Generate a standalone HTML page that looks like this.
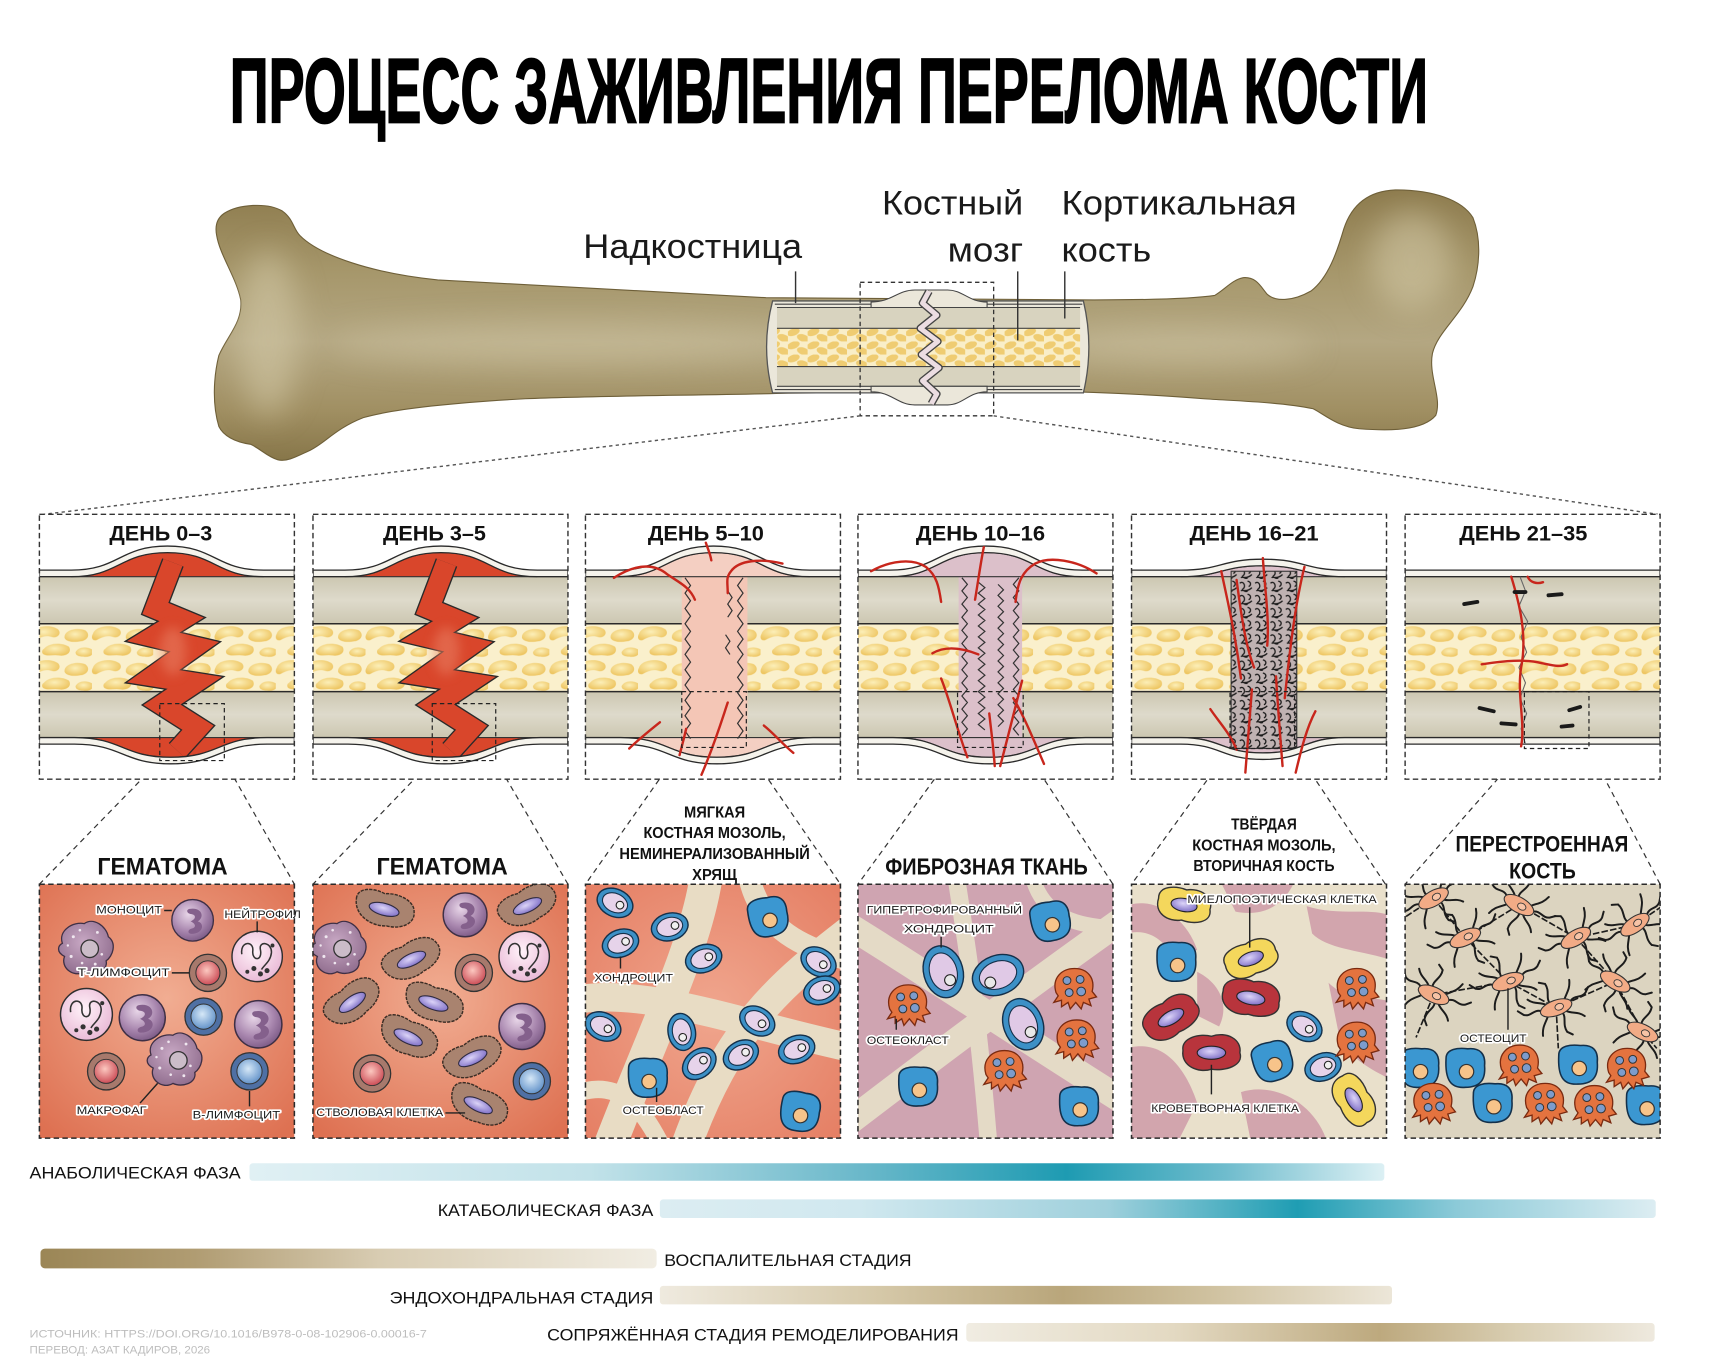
<!DOCTYPE html>
<html><head><meta charset="utf-8"><style>
html,body{margin:0;padding:0;background:#fff;}
svg{display:block;}
text{font-family:"Liberation Sans","DejaVu Sans",sans-serif;}
.lb{font-size:10.5px;fill:#1a1a1a;stroke:#fff;stroke-width:3px;paint-order:stroke;stroke-linejoin:round;}
.hd{font-weight:bold;fill:#111;}
.bt{font-size:15.5px;fill:#111;}
</style></head><body>
<svg xmlns="http://www.w3.org/2000/svg" width="1717" height="1369" viewBox="0 0 1569 1251" preserveAspectRatio="none">
<defs>
<clipPath id="pc"><rect x="0" y="0" width="233" height="242"/></clipPath>
<clipPath id="cc"><rect x="0" y="0" width="233" height="232"/></clipPath>
<radialGradient id="gBlob" cx=".45" cy=".4" r=".6"><stop offset="0" stop-color="#fcefb8"/><stop offset="1" stop-color="#eec663"/></radialGradient>
<linearGradient id="gCort" x1="0" y1="0" x2="0" y2="1"><stop offset="0" stop-color="#ccc7b1"/><stop offset=".5" stop-color="#dedacb"/><stop offset="1" stop-color="#ccc7b1"/></linearGradient>
<pattern id="mp" patternUnits="userSpaceOnUse" x="-8" y="100" width="56" height="31">
<rect width="56" height="31" fill="#faf0cc"/>
<path d="M1,9 C3,2 18,0 25,5 C29,9 24,14 19,12 C13,10 8,13 4,15 C0,16 -1,12 1,9Z" fill="url(#gBlob)"/>
<path d="M31,13 C30,6 42,3 50,6 C55,10 52,15 46,16 C40,17 33,17 31,13Z" fill="url(#gBlob)"/>
<path d="M12,23 C17,17 29,17 35,21 C38,26 33,30 26,29 C21,28 16,30 12,28 C10,27 10,24 12,23Z" fill="url(#gBlob)"/>
<path d="M41,26 C44,20 53,21 57,24 C58,29 53,31 48,30 C44,30 41,29 41,26Z" fill="url(#gBlob)"/>
</pattern>
<pattern id="mp2" patternUnits="userSpaceOnUse" x="0" y="300" width="18" height="12">
<rect width="18" height="12" fill="#f9eec8"/>
<ellipse cx="5" cy="3.5" rx="6" ry="3.3" fill="#efcc72" transform="rotate(-20 5 3.5)"/>
<ellipse cx="14" cy="9" rx="6" ry="3.3" fill="#efcc72" transform="rotate(20 14 9)"/>
</pattern>
<pattern id="scrib" patternUnits="userSpaceOnUse" width="14" height="12">
<rect width="14" height="12" fill="#bfb2b2"/>
<path d="M1,3 C4,0 7,6 4,8 C1,10 8,11 12,7 M8,1 C12,2 11,5 9,6 M2,10 C4,8 6,12 8,10" stroke="#1a1a1a" fill="none" stroke-width="1.2"/>
</pattern>
<linearGradient id="boneG" x1="0" y1="170" x2="0" y2="420" gradientUnits="userSpaceOnUse">
<stop offset="0" stop-color="#8c7a4c"/><stop offset=".3" stop-color="#a6976b"/><stop offset=".55" stop-color="#b4a782"/><stop offset=".8" stop-color="#a08f62"/><stop offset="1" stop-color="#847346"/></linearGradient>
<filter id="bl" x="-50%" y="-50%" width="200%" height="200%"><feGaussianBlur stdDeviation="14"/></filter>
<filter id="bl2" x="-50%" y="-50%" width="200%" height="200%"><feGaussianBlur stdDeviation="5"/></filter>
<radialGradient id="gMono" cx=".4" cy=".35" r=".7"><stop offset="0" stop-color="#e8d6e8"/><stop offset=".6" stop-color="#a886ae"/><stop offset="1" stop-color="#7a5884"/></radialGradient>
<radialGradient id="gNeut" cx=".45" cy=".4" r=".65"><stop offset="0" stop-color="#fff2f9"/><stop offset="1" stop-color="#e8b6d4"/></radialGradient>
<radialGradient id="gMacro" cx=".45" cy=".4" r=".7"><stop offset="0" stop-color="#c8a8c4"/><stop offset="1" stop-color="#8b6889"/></radialGradient>
<radialGradient id="gRed" cx=".45" cy=".4" r=".65"><stop offset="0" stop-color="#fcc8c0"/><stop offset="1" stop-color="#c8434e"/></radialGradient>
<radialGradient id="gBlue" cx=".45" cy=".4" r=".65"><stop offset="0" stop-color="#d6e8f7"/><stop offset="1" stop-color="#5a8cc6"/></radialGradient>
<radialGradient id="gPurp" cx=".45" cy=".4" r=".65"><stop offset="0" stop-color="#dcd4f8"/><stop offset="1" stop-color="#7a6ac4"/></radialGradient>
<radialGradient id="gHem" cx=".5" cy=".45" r=".7"><stop offset="0" stop-color="#f1ad92"/><stop offset="1" stop-color="#de7152"/></radialGradient>
<radialGradient id="gSal" cx=".5" cy=".5" r=".7"><stop offset="0" stop-color="#f0a68e"/><stop offset="1" stop-color="#e57f64"/></radialGradient>
<linearGradient id="gAna"><stop offset="0" stop-color="#e0f0f4"/><stop offset=".3" stop-color="#c2e2e9"/><stop offset=".54" stop-color="#6ab8ca"/><stop offset=".72" stop-color="#1e9bb2"/><stop offset=".86" stop-color="#6fbccd"/><stop offset="1" stop-color="#dcf0f4"/></linearGradient>
<linearGradient id="gCat"><stop offset="0" stop-color="#dcedf2"/><stop offset=".2" stop-color="#d0e8ef"/><stop offset=".45" stop-color="#9fd0dc"/><stop offset=".64" stop-color="#1f9db3"/><stop offset=".8" stop-color="#8ccad8"/><stop offset="1" stop-color="#dcedf2"/></linearGradient>
<linearGradient id="gInf"><stop offset="0" stop-color="#9b8656"/><stop offset=".25" stop-color="#b09c72"/><stop offset=".55" stop-color="#d8ccb2"/><stop offset="1" stop-color="#f1ede3"/></linearGradient>
<linearGradient id="gEndo"><stop offset="0" stop-color="#efeadf"/><stop offset=".3" stop-color="#d5c8a8"/><stop offset=".55" stop-color="#b9a67b"/><stop offset=".75" stop-color="#cfc19f"/><stop offset="1" stop-color="#ece6d8"/></linearGradient>
<linearGradient id="gRem"><stop offset="0" stop-color="#f0ece2"/><stop offset=".3" stop-color="#e3d9c2"/><stop offset=".6" stop-color="#bda97e"/><stop offset=".8" stop-color="#d9ceb2"/><stop offset="1" stop-color="#eee9de"/></linearGradient>

<g id="bone">
<rect x="0" y="57" width="233" height="43" fill="url(#gCort)"/>
<rect x="0" y="100" width="233" height="62" fill="url(#mp)"/>
<rect x="0" y="162" width="233" height="42" fill="url(#gCort)"/>
<path d="M0,100H233M0,162H233" stroke="#2a2a2a" stroke-width="1.3"/>
</g>

<g id="mono"><circle r="20" fill="url(#gMono)" stroke="#3e2f45" stroke-width="1.3"/><path d="M-3,-11 C9,-13 12,-3 5,1 C12,3 10,13 -1,13 C-5,13 -5,9 -1,8 C4,7 3,3 -2,1 C3,-1 4,-5 -1,-6 C-5,-6 -7,-10 -3,-11Z" fill="#84608c"/></g>
<g id="neut"><circle r="23" fill="url(#gNeut)" stroke="#2e2e2e" stroke-width="1.3"/><path d="M-14,-2 C-16,-14 -3,-15 -4,-5 C-5,4 5,5 3,-6 C1,-15 14,-13 13,-3 C12,5 6,8 4,12" fill="none" stroke="#333" stroke-width="1.4"/><circle cx="-3" cy="11" r="2.3" fill="#333"/><circle cx="3" cy="16" r="2.3" fill="#333"/><circle cx="9" cy="13" r="2.3" fill="#333"/><circle cx="14" cy="-10" r="1.8" fill="#333"/><circle cx="-9" cy="14" r="1.8" fill="#333"/></g>
<g id="macro"><path d="M-22,-4 C-26,-16 -12,-24 -2,-22 C6,-28 18,-20 20,-10 C28,-4 24,8 18,12 C20,22 6,26 -2,22 C-12,28 -24,18 -20,8 C-28,4 -26,-2 -22,-4Z" fill="url(#gMacro)" stroke="#3e2f45" stroke-width="1.2"/><g fill="#efe6ef"><circle cx="-12" cy="-10" r="1.4"/><circle cx="-6" cy="-16" r="1.2"/><circle cx="10" cy="-14" r="1.3"/><circle cx="14" cy="6" r="1.2"/><circle cx="-14" cy="8" r="1.4"/><circle cx="-4" cy="14" r="1.2"/><circle cx="8" cy="15" r="1.3"/><circle cx="-17" cy="-2" r="1.1"/></g><circle cx="3" cy="1" r="8" fill="#cbbcc8" stroke="#333" stroke-width="1.2"/></g>
<g id="tlym"><circle r="17" fill="#a7796c" stroke="#333" stroke-width="1.2"/><circle r="11" fill="url(#gRed)" stroke="#333" stroke-width=".9"/></g>
<g id="blym"><circle r="17" fill="#4f70a4" stroke="#333" stroke-width="1.2"/><circle r="11.5" fill="url(#gBlue)" stroke="#333" stroke-width=".9"/></g>
<g id="stem"><path d="M-27,-3 C-29,-13 -15,-17 -3,-14 C8,-18 25,-15 27,-5 C31,5 20,14 6,14 C-6,18 -25,13 -27,-3Z" fill="#a9836f" stroke="#3b2d25" stroke-width="1.3" stroke-dasharray="3,1"/><ellipse rx="14" ry="5.5" fill="url(#gPurp)" stroke="#2e2a40" stroke-width="1"/></g>
<g id="chon"><ellipse rx="17" ry="12.5" fill="#3c90c6" stroke="#14304a" stroke-width="1.3"/><ellipse rx="12" ry="8.5" fill="#e6d3ea" stroke="#14304a" stroke-width="1"/><circle cx="5" cy="0" r="3.5" fill="#f0f0f0" stroke="#222" stroke-width="1"/></g>
<g id="obl"><path d="M-16,-8 C-16,-16 -6,-17 2,-16 C12,-17 17,-12 16,-2 C17,10 12,16 0,16 C-12,17 -17,10 -16,-8Z" fill="#3b97d1" stroke="#14304a" stroke-width="1.3"/><circle cx="1" cy="3" r="6" fill="#f7c48a" stroke="#333" stroke-width="1"/></g>
<g id="ocl"><path d="M-16,4 C-20,-9 -11,-18 1,-18 C13,-18 20,-9 17,3 L21,8 L14,10 L16,16 L9,13 L7,19 L2,13 L-3,19 L-5,13 L-11,17 L-11,11 L-18,13 L-14,7 Z" fill="#e4733f" stroke="#7a2a10" stroke-width="1.2"/><g fill="#7d9ccc" stroke="#333" stroke-width=".9"><circle cx="-6" cy="-7" r="3.6"/><circle cx="6" cy="-8" r="3.6"/><circle cx="-4" cy="4" r="3.6"/><circle cx="7" cy="3" r="4"/></g></g>
<g id="hchon"><ellipse rx="18" ry="24" fill="#3c90c6" stroke="#14304a" stroke-width="1.3"/><ellipse rx="12.5" ry="17.5" fill="#e0c9e6" stroke="#14304a"/><circle cx="4" cy="9" r="5" fill="#e8e8e8" stroke="#222"/></g>
<g id="myel"><path d="M-24,-2 C-26,-14 -10,-16 0,-14 C12,-18 26,-12 24,0 C28,12 12,16 0,14 C-12,18 -26,12 -24,-2Z" fill="#f4d75c" stroke="#333" stroke-width="1.3"/><ellipse rx="12" ry="6" fill="url(#gPurp)" stroke="#222"/></g>
<g id="hema"><path d="M-26,-2 C-28,-14 -10,-18 0,-15 C14,-20 28,-12 26,0 C30,12 12,17 0,15 C-12,19 -28,12 -26,-2Z" fill="#b8343c" stroke="#333" stroke-width="1.3"/><ellipse rx="13" ry="6" fill="url(#gPurp)" stroke="#222"/></g>
<g id="ocy"><path d="M-14,-2 C-20,-6 -24,0 -30,-4 M-30,-4 l-4,-5 M14,-1 C20,-6 24,0 30,-4 M30,-4 l4,-4 M-4,-6 C-6,-12 0,-16 -2,-24 M-2,-24 l-5,-3 M4,6 C6,12 0,16 2,24 M2,24 l4,4 M-10,5 C-14,10 -18,12 -20,20 M10,-5 C14,-10 18,-12 20,-20 M8,6 C12,10 18,10 22,16 M-8,-6 C-12,-10 -18,-10 -22,-16" stroke="#1c1c1c" stroke-width="1.8" fill="none" stroke-linecap="round"/><ellipse rx="15" ry="7" fill="#f2ab86" stroke="#333" stroke-width="1"/><ellipse cx="3" rx="4" ry="3" fill="#f7c3a6" stroke="#333" stroke-width=".8"/></g>

<g id="crack">
<polyline points="122,44 106,86 130,96 104,112 142,121 104,148 142,154 112,174 145,195 126,216" fill="none" stroke="#2a2a2a" stroke-width="21" stroke-linejoin="miter" stroke-miterlimit="3"/>
<polyline points="122,44 106,86 130,96 104,112 142,121 104,148 142,154 112,174 145,195 126,216" fill="none" stroke="#d9462b" stroke-width="18.5" stroke-linejoin="miter" stroke-miterlimit="3"/>
<ellipse cx="122" cy="125" rx="12" ry="22" fill="#e98063" opacity=".55" filter="url(#bl2)"/>
</g>
</defs>

<rect width="1569" height="1251" fill="#fff"/>

<!-- TITLE -->
<text x="210" y="112" font-size="84" font-weight="bold" textLength="1095" lengthAdjust="spacingAndGlyphs" fill="#000" stroke="#000" stroke-width="1.6">ПРОЦЕСС ЗАЖИВЛЕНИЯ ПЕРЕЛОМА КОСТИ</text>

<!-- MAIN BONE -->
<g transform="scale(1 1.015)">
<path id="bp" d="M205,192 C218,184 244,182 258,190 C268,197 268,206 274,212 C292,230 340,246 400,252 C500,258 600,262 700,268 L1000,270 C1050,270 1090,269 1110,266 C1120,260 1126,252 1136,250 C1148,249 1152,258 1158,265 C1166,272 1182,271 1198,262 C1214,250 1222,226 1228,206 C1235,185 1250,172 1275,171 C1310,171 1336,180 1346,196 C1354,216 1352,240 1346,258 C1336,284 1314,298 1309,318 C1305,338 1318,358 1312,374 C1300,388 1270,388 1242,386 C1222,384 1210,373 1200,368 C1170,362 1130,361 1100,359 C1050,355 1000,353 950,352 L720,354 C650,356 550,356 480,359 C420,362 360,368 332,376 C306,386 296,400 282,406 C271,411 262,416 254,414 C244,411 238,404 229,400 C214,398 204,392 200,384 C194,364 195,340 200,320 C208,302 222,290 220,270 C216,250 201,230 198,212 C196,202 199,196 205,192 Z" fill="url(#boneG)" stroke="#6e5f38" stroke-width="1"/>
<clipPath id="bclip"><use href="#bp"/></clipPath>
<g clip-path="url(#bclip)" filter="url(#bl)" opacity=".55">
<ellipse cx="245" cy="300" rx="28" ry="75" fill="#d6ccab"/>
<ellipse cx="1290" cy="235" rx="38" ry="45" fill="#d6ccab"/>
<ellipse cx="520" cy="310" rx="220" ry="18" fill="#cfc4a2"/>
<ellipse cx="1080" cy="312" rx="120" ry="16" fill="#cfc4a2"/>
</g>
</g>

<!-- cutaway -->
<path d="M706,275 L990,275 Q1000,317 990,359 L706,359 Q695,317 706,275 Z" fill="#ebe7da" stroke="#555" stroke-width="1.2"/>
<rect x="710" y="281" width="277" height="19" fill="#d8d3bf"/>
<rect x="710" y="300" width="277" height="35" fill="url(#mp2)"/>
<rect x="710" y="335" width="277" height="18" fill="#d8d3bf"/>
<path d="M708,278H989M710,281H987M710,300H987M710,335H987M710,353H987M708,356H989" stroke="#444" stroke-width="1"/>
<path d="M796,276 C815,276 820,265 836,265 L866,265 C880,265 885,276 902,276 L902,281 L796,281 Z" fill="#ebe7da" stroke="#444" stroke-width="1"/>
<path d="M796,358 C815,358 820,370 836,370 L866,370 C880,370 885,358 902,358 L902,353 L796,353 Z" fill="#ebe7da" stroke="#444" stroke-width="1"/>
<polyline points="849,266 843,277 856,288 841,300 857,312 842,324 858,336 843,348 856,360 851,369" fill="none" stroke="#444" stroke-width="7" stroke-linejoin="round"/>
<polyline points="849,266 843,277 856,288 841,300 857,312 842,324 858,336 843,348 856,360 851,369" fill="none" stroke="#ecdde2" stroke-width="4.5" stroke-linejoin="round"/>
<rect x="786" y="258" width="122" height="122" fill="none" stroke="#333" stroke-width="1.2" stroke-dasharray="4,3"/>
<path d="M727,248V277M930,248V311M973,248V291" stroke="#333" stroke-width="1.3"/>
<text x="533" y="236" font-size="31" textLength="200" lengthAdjust="spacingAndGlyphs" fill="#1a1a1a">Надкостница</text>
<text x="806" y="196" font-size="31" textLength="129" lengthAdjust="spacingAndGlyphs" fill="#1a1a1a">Костный</text>
<text x="866" y="239" font-size="31" textLength="69" lengthAdjust="spacingAndGlyphs" fill="#1a1a1a">мозг</text>
<text x="970" y="196" font-size="31" textLength="215" lengthAdjust="spacingAndGlyphs" fill="#1a1a1a">Кортикальная</text>
<text x="970" y="239" font-size="31" textLength="82" lengthAdjust="spacingAndGlyphs" fill="#1a1a1a">кость</text>

<!-- dotted connectors -->
<path d="M786,380 L40,470 M908,380 L1515,470" stroke="#555" stroke-width="1.3" stroke-dasharray="3,3" fill="none"/>

<!-- zoom connectors to cell panels -->
<g stroke="#333" stroke-width="1.1" stroke-dasharray="5,4" fill="none">
<path d="M146,695 L36,808 M205,695 L269,808"/>
<path d="M395,695 L286,808 M453,695 L519,808"/>
<path d="M623,683 L535,808 M682,683 L768,808"/>
<path d="M875,683 L784,808 M935,683 L1017,808"/>
<path d="M1124,684 L1034,808 M1183,684 L1266,808"/>
<path d="M1393,684 L1284,808 M1452,684 L1517,808"/>
</g>

<!-- TOP PANEL 1 -->
<g transform="translate(36,470)">
<rect width="233" height="242" fill="#fff"/>
<g clip-path="url(#pc)">
<use href="#bone"/>
<path d="M29,57 C73,57 73,35 117,35 C161,35 161,57 205,57 Z" fill="#d9462b" stroke="#333" stroke-width="1"/>
<path d="M32,204 C76,204 76,222 120,222 C164,222 164,204 208,204 Z" fill="#d9462b" stroke="#333" stroke-width="1"/>
<use href="#crack"/>
<path d="M0,51 L29,51 C73,51 73,29 117,29 C161,29 161,51 205,51 L233,51 L233,57 L205,57 C161,57 161,35 117,35 C73,35 73,57 29,57 L0,57 Z" fill="#f5f3ec" stroke="#2a2a2a" stroke-width="1.2"/>
<path d="M0,204 L32,204 C76,204 76,222 120,222 C164,222 164,204 208,204 L233,204 L233,210 L208,210 C164,210 164,228 120,228 C76,228 76,210 32,210 L0,210 Z" fill="#f5f3ec" stroke="#2a2a2a" stroke-width="1.2"/>
</g>
<rect x="110" y="173" width="59" height="52" fill="none" stroke="#222" stroke-width="1.1" stroke-dasharray="4,3"/>
<rect width="233" height="242" fill="none" stroke="#333" stroke-width="1.3" stroke-dasharray="5,3"/>
<text class="hd" x="111" y="24" font-size="19.5" text-anchor="middle" textLength="94" lengthAdjust="spacingAndGlyphs">ДЕНЬ 0–3</text>
</g>

<!-- TOP PANEL 2 -->
<g transform="translate(286,470)">
<rect width="233" height="242" fill="#fff"/>
<g clip-path="url(#pc)">
<use href="#bone"/>
<path d="M29,57 C73,57 73,35 117,35 C161,35 161,57 205,57 Z" fill="#d9462b" stroke="#333" stroke-width="1"/>
<path d="M32,204 C76,204 76,222 120,222 C164,222 164,204 208,204 Z" fill="#d9462b" stroke="#333" stroke-width="1"/>
<use href="#crack"/>
<path d="M0,51 L29,51 C73,51 73,29 117,29 C161,29 161,51 205,51 L233,51 L233,57 L205,57 C161,57 161,35 117,35 C73,35 73,57 29,57 L0,57 Z" fill="#f5f3ec" stroke="#2a2a2a" stroke-width="1.2"/>
<path d="M0,204 L32,204 C76,204 76,222 120,222 C164,222 164,204 208,204 L233,204 L233,210 L208,210 C164,210 164,228 120,228 C76,228 76,210 32,210 L0,210 Z" fill="#f5f3ec" stroke="#2a2a2a" stroke-width="1.2"/>
</g>
<rect x="109" y="173" width="58" height="52" fill="none" stroke="#222" stroke-width="1.1" stroke-dasharray="4,3"/>
<rect width="233" height="242" fill="none" stroke="#333" stroke-width="1.3" stroke-dasharray="5,3"/>
<text class="hd" x="111" y="24" font-size="19.5" text-anchor="middle" textLength="94" lengthAdjust="spacingAndGlyphs">ДЕНЬ 3–5</text>
</g>

<!-- TOP PANEL 3 -->
<g transform="translate(535,470)">
<rect width="233" height="242" fill="#fff"/>
<g clip-path="url(#pc)">
<use href="#bone"/>
<rect x="88" y="57" width="60" height="147" fill="#f4c6b6"/>
<path d="M29,57 C73,57 73,35 117,35 C161,35 161,57 205,57 Z" fill="#f4cfc2" stroke="#333" stroke-width="1"/>
<path d="M32,204 C76,204 76,222 120,222 C164,222 164,204 208,204 Z" fill="#f4cfc2" stroke="#333" stroke-width="1"/>
<path d="M0,51 L29,51 C73,51 73,29 117,29 C161,29 161,51 205,51 L233,51 L233,57 L205,57 C161,57 161,35 117,35 C73,35 73,57 29,57 L0,57 Z" fill="#f5f3ec" stroke="#2a2a2a" stroke-width="1.2"/>
<path d="M0,204 L32,204 C76,204 76,222 120,222 C164,222 164,204 208,204 L233,204 L233,210 L208,210 C164,210 164,228 120,228 C76,228 76,210 32,210 L0,210 Z" fill="#f5f3ec" stroke="#2a2a2a" stroke-width="1.2"/>
<path d="M91,58 l5,7 l-5,7 l5,7 l-5,7 l5,7 l-5,7 l5,7 l-5,7 l5,7 l-5,7 l5,7 l-5,7 l5,7 l-5,7 l5,7 l-5,7 l5,7 l-5,7 l5,7 l-5,7 l5,7 M144,58 l-5,7 l5,7 l-5,7 l5,7 l-5,7 l5,7 l-5,7 l5,7 l-5,7 l5,7 l-5,7 l5,7 l-5,7 l5,7 l-5,7 l5,7 l-5,7 l5,7 l-5,7 l5,7 l-5,7 M130,70 l4,6 l-4,6 l4,6 l-4,6 M128,110 l4,6 l-4,6 l4,6" fill="none" stroke="#333" stroke-width="1.1"/>
<g fill="none" stroke="#c8261c" stroke-width="2.2" stroke-linecap="round">
<path d="M110,26 C112,32 114,36 115,42"/>
<path d="M26,58 C45,46 62,44 75,55 C85,62 95,66 100,78"/>
<path d="M180,45 C160,40 140,42 133,52 C128,58 130,62 130,72"/>
<path d="M68,190 C58,198 48,206 40,214"/>
<path d="M130,172 C124,190 118,210 106,238"/>
<path d="M163,193 C172,200 180,210 190,218"/>
<path d="M92,196 C90,205 88,212 86,220"/>
</g>
</g>
<rect x="88" y="162" width="59" height="51" fill="none" stroke="#222" stroke-width="1.1" stroke-dasharray="4,3"/>
<rect width="233" height="242" fill="none" stroke="#333" stroke-width="1.3" stroke-dasharray="5,3"/>
<text class="hd" x="110" y="24" font-size="19.5" text-anchor="middle" textLength="106" lengthAdjust="spacingAndGlyphs">ДЕНЬ 5–10</text>
</g>

<!-- TOP PANEL 4 -->
<g transform="translate(784,470)">
<rect width="233" height="242" fill="#fff"/>
<g clip-path="url(#pc)">
<use href="#bone"/>
<rect x="92" y="57" width="58" height="147" fill="#dcc0ca"/>
<path d="M29,57 C73,57 73,35 117,35 C161,35 161,57 205,57 Z" fill="#dcc0ca" stroke="#333" stroke-width="1"/>
<path d="M32,204 C76,204 76,222 120,222 C164,222 164,204 208,204 Z" fill="#dcc0ca" stroke="#333" stroke-width="1"/>
<path d="M0,51 L29,51 C73,51 73,29 117,29 C161,29 161,51 205,51 L233,51 L233,57 L205,57 C161,57 161,35 117,35 C73,35 73,57 29,57 L0,57 Z" fill="#f5f3ec" stroke="#2a2a2a" stroke-width="1.2"/>
<path d="M0,204 L32,204 C76,204 76,222 120,222 C164,222 164,204 208,204 L233,204 L233,210 L208,210 C164,210 164,228 120,228 C76,228 76,210 32,210 L0,210 Z" fill="#f5f3ec" stroke="#2a2a2a" stroke-width="1.2"/>
<path d="M95,58 l5,6 l-5,6 l5,6 l-5,6 l5,6 l-5,6 l5,6 l-5,6 l5,6 l-5,6 l5,6 l-5,6 l5,6 l-5,6 l5,6 l-5,6 l5,6 l-5,6 l5,6 l-5,6 l5,6 l-5,6 l5,6 l-5,6 M147,58 l-5,6 l5,6 l-5,6 l5,6 l-5,6 l5,6 l-5,6 l5,6 l-5,6 l5,6 l-5,6 l5,6 l-5,6 l5,6 l-5,6 l5,6 l-5,6 l5,6 l-5,6 l5,6 l-5,6 l5,6 l-5,6 l5,6 M110,62 l6,5 l-6,5 l6,5 l-6,5 l6,5 l-6,5 l6,5 l-6,5 l6,5 l-6,5 l6,5 l-6,5 l6,5 l-6,5 l6,5 l-6,5 l6,5 l-6,5 l6,5 l-6,5 l6,5 l-6,5 l6,5 l-6,5 l6,5 l-6,5 l6,5 M128,64 l5,5 l-5,5 l5,5 l-5,5 l5,5 l-5,5 l5,5 l-5,5 l5,5 l-5,5 l5,5 l-5,5 l5,5 l-5,5 l5,5 l-5,5 l5,5 l-5,5 l5,5 l-5,5 l5,5 l-5,5 l5,5 l-5,5 l5,5 l-5,5" fill="none" stroke="#333" stroke-width="1.1"/>
<g fill="none" stroke="#c8261c" stroke-width="2.2" stroke-linecap="round">
<path d="M115,30 C112,45 110,60 107,78"/>
<path d="M12,52 C30,42 50,40 62,48 C72,56 74,66 76,80"/>
<path d="M218,54 C200,42 175,38 162,45 C150,52 146,62 144,80"/>
<path d="M68,127 C80,120 95,122 110,128"/>
<path d="M76,150 C84,170 90,195 100,222"/>
<path d="M150,152 C144,175 138,200 130,230"/>
<path d="M142,168 C152,185 160,205 170,228"/>
<path d="M120,182 C122,200 124,215 125,230"/>
</g>
</g>
<rect x="91" y="162" width="60" height="51" fill="none" stroke="#222" stroke-width="1.1" stroke-dasharray="4,3"/>
<rect width="233" height="242" fill="none" stroke="#333" stroke-width="1.3" stroke-dasharray="5,3"/>
<text class="hd" x="112" y="24" font-size="19.5" text-anchor="middle" textLength="118" lengthAdjust="spacingAndGlyphs">ДЕНЬ 10–16</text>
</g>

<!-- TOP PANEL 5 -->
<g transform="translate(1034,470)">
<rect width="233" height="242" fill="#fff"/>
<g clip-path="url(#pc)">
<use href="#bone"/>
<path d="M45,57 C82,57 82,47 120,47 C158,47 158,57 195,57 Z" fill="#dcc0ca" stroke="#333" stroke-width="1"/>
<path d="M45,204 C82,204 82,218 120,218 C158,218 158,204 195,204 Z" fill="#dcc0ca" stroke="#333" stroke-width="1"/>
<rect x="91" y="52" width="60" height="162" fill="url(#scrib)" stroke="#333" stroke-width="1"/>
<path d="M0,51 L45,51 C82,51 82,41 120,41 C158,41 158,51 195,51 L233,51 L233,57 L195,57 C158,57 158,47 120,47 C82,47 82,57 45,57 L0,57 Z" fill="#f5f3ec" stroke="#2a2a2a" stroke-width="1.2"/>
<path d="M0,204 L45,204 C82,204 82,218 120,218 C158,218 158,204 195,204 L233,204 L233,210 L195,210 C158,210 158,224 120,224 C82,224 82,210 45,210 L0,210 Z" fill="#f5f3ec" stroke="#2a2a2a" stroke-width="1.2"/>
<g fill="none" stroke="#c8261c" stroke-width="2.2" stroke-linecap="round">
<path d="M82,52 C88,80 95,110 100,150"/>
<path d="M158,48 C150,80 145,120 140,168"/>
<path d="M120,40 C122,70 126,95 124,120"/>
<path d="M72,178 C80,190 90,200 96,215"/>
<path d="M168,180 C160,195 155,215 150,236"/>
<path d="M110,160 C108,185 106,210 104,236"/>
<path d="M132,148 C134,180 136,205 138,230"/>
<path d="M96,60 C100,90 104,120 112,140"/>
</g>
</g>
<rect x="90" y="162" width="59" height="52" fill="none" stroke="#222" stroke-width="1.1" stroke-dasharray="4,3"/>
<rect width="233" height="242" fill="none" stroke="#333" stroke-width="1.3" stroke-dasharray="5,3"/>
<text class="hd" x="112" y="24" font-size="19.5" text-anchor="middle" textLength="118" lengthAdjust="spacingAndGlyphs">ДЕНЬ 16–21</text>
</g>

<!-- TOP PANEL 6 -->
<g transform="translate(1284,470)">
<rect width="233" height="242" fill="#fff"/>
<g clip-path="url(#pc)">
<use href="#bone"/>
<path d="M0,51H233V57H0Z" fill="#f5f3ec" stroke="#2a2a2a" stroke-width="1.2"/>
<path d="M0,204H233V210H0Z" fill="#f5f3ec" stroke="#2a2a2a" stroke-width="1.2"/>
<polyline points="105,57 110,70 104,84 112,98 106,112 111,126 104,140 110,154 105,168 111,182 106,196 110,210" fill="none" stroke="#666" stroke-width="1"/>
<g fill="none" stroke="#c8261c" stroke-width="2.2" stroke-linecap="round">
<path d="M97,57 C104,80 112,110 106,140 C102,165 110,190 106,212"/>
<path d="M70,137 C90,134 110,132 125,136 C135,138 142,140 148,137"/>
<path d="M112,57 C114,62 120,64 126,62"/>
</g>
<g stroke="#1a1a1a" stroke-width="3.5" stroke-linecap="round">
<path d="M54,82 L66,80 M131,74 L143,73 M100,71 L110,71 M68,177 L81,180 M150,179 L160,176 M88,191 L101,192 M143,194 L153,193"/>
</g>
</g>
<rect x="109" y="162" width="59" height="52" fill="none" stroke="#222" stroke-width="1.1" stroke-dasharray="4,3"/>
<rect width="233" height="242" fill="none" stroke="#333" stroke-width="1.3" stroke-dasharray="5,3"/>
<text class="hd" x="108" y="24" font-size="19.5" text-anchor="middle" textLength="117" lengthAdjust="spacingAndGlyphs">ДЕНЬ 21–35</text>
</g>

<!-- HEADINGS between rows -->
<text class="hd" x="148.5" y="799" font-size="22" text-anchor="middle" textLength="119" lengthAdjust="spacingAndGlyphs">ГЕМАТОМА</text>
<text class="hd" x="404" y="799" font-size="22" text-anchor="middle" textLength="120" lengthAdjust="spacingAndGlyphs">ГЕМАТОМА</text>
<g class="hd" font-size="14" text-anchor="middle">
<text x="653" y="747" textLength="56" lengthAdjust="spacingAndGlyphs">МЯГКАЯ</text>
<text x="653" y="766" textLength="130" lengthAdjust="spacingAndGlyphs">КОСТНАЯ МОЗОЛЬ,</text>
<text x="653" y="785" textLength="174" lengthAdjust="spacingAndGlyphs">НЕМИНЕРАЛИЗОВАННЫЙ</text>
<text x="653" y="804" textLength="41" lengthAdjust="spacingAndGlyphs">ХРЯЩ</text>
<text x="1155" y="758" textLength="60" lengthAdjust="spacingAndGlyphs">ТВЁРДАЯ</text>
<text x="1155" y="777" textLength="131" lengthAdjust="spacingAndGlyphs">КОСТНАЯ МОЗОЛЬ,</text>
<text x="1155" y="796" textLength="129" lengthAdjust="spacingAndGlyphs">ВТОРИЧНАЯ КОСТЬ</text>
</g>
<text class="hd" x="901.5" y="799" font-size="21" text-anchor="middle" textLength="185" lengthAdjust="spacingAndGlyphs">ФИБРОЗНАЯ ТКАНЬ</text>
<text class="hd" x="1409" y="778" font-size="20" text-anchor="middle" textLength="158" lengthAdjust="spacingAndGlyphs">ПЕРЕСТРОЕННАЯ</text>
<text class="hd" x="1409.5" y="803" font-size="20" text-anchor="middle" textLength="61" lengthAdjust="spacingAndGlyphs">КОСТЬ</text>

<!-- CELL PANEL 1 -->
<g transform="translate(36,808)">
<g clip-path="url(#cc)">
<rect width="233" height="232" fill="url(#gHem)"/>
<use href="#mono" transform="translate(140,33) scale(.95)"/>
<use href="#neut" transform="translate(199,66)"/>
<use href="#macro" transform="translate(43,58)"/>
<use href="#tlym" transform="translate(154,81)"/>
<use href="#neut" transform="translate(43,119) scale(1.03)"/>
<use href="#mono" transform="translate(94,122) scale(1.05)"/>
<use href="#blym" transform="translate(150,121)"/>
<use href="#mono" transform="translate(200,128) scale(1.08)"/>
<use href="#tlym" transform="translate(61,171)"/>
<use href="#macro" transform="translate(124,160)"/>
<use href="#blym" transform="translate(192,171)"/>
</g>
<path d="M114,24H121M199,34V44M121,81H137M92,200L108,182M192,189V203" stroke="#222" stroke-width="1.3"/>
<text class="lb" x="112" y="27" text-anchor="end" textLength="60" lengthAdjust="spacingAndGlyphs">МОНОЦИТ</text>
<text class="lb" x="169" y="31" textLength="70" lengthAdjust="spacingAndGlyphs">НЕЙТРОФИЛ</text>
<text class="lb" x="35" y="84" textLength="84" lengthAdjust="spacingAndGlyphs">Т-ЛИМФОЦИТ</text>
<text class="lb" x="34" y="210" textLength="64" lengthAdjust="spacingAndGlyphs">МАКРОФАГ</text>
<text class="lb" x="140" y="214" textLength="80" lengthAdjust="spacingAndGlyphs">В-ЛИМФОЦИТ</text>
<rect width="233" height="232" fill="none" stroke="#2a2a2a" stroke-width="1.4" stroke-dasharray="5,3"/>
</g>

<!-- CELL PANEL 2 -->
<g transform="translate(286,808)">
<g clip-path="url(#cc)">
<rect width="233" height="232" fill="url(#gHem)"/>
<use href="#stem" transform="translate(65,23) rotate(15)"/>
<use href="#stem" transform="translate(196,20) rotate(-25)"/>
<use href="#stem" transform="translate(90,69) rotate(-25)"/>
<use href="#stem" transform="translate(36,108) rotate(-35)"/>
<use href="#stem" transform="translate(110,109) rotate(20)"/>
<use href="#stem" transform="translate(87,140) rotate(25)"/>
<use href="#stem" transform="translate(146,159) rotate(-25)"/>
<use href="#stem" transform="translate(151,202) rotate(25)"/>
<use href="#macro" transform="translate(24,58)"/>
<use href="#mono" transform="translate(139,28)"/>
<use href="#mono" transform="translate(191,130) scale(1.05)"/>
<use href="#neut" transform="translate(193,66)"/>
<use href="#tlym" transform="translate(147,81)"/>
<use href="#tlym" transform="translate(54,173)"/>
<use href="#blym" transform="translate(200,180)"/>
</g>
<path d="M121,209H139" stroke="#222" stroke-width="1.3"/>
<text class="lb" x="3" y="212" textLength="116" lengthAdjust="spacingAndGlyphs">СТВОЛОВАЯ КЛЕТКА</text>
<rect width="233" height="232" fill="none" stroke="#2a2a2a" stroke-width="1.4" stroke-dasharray="5,3"/>
</g>

<!-- CELL PANEL 3 -->
<g transform="translate(535,808)">
<g clip-path="url(#cc)">
<rect width="233" height="232" fill="url(#gSal)"/>
<g fill="none" stroke="#e8dcc4" stroke-linecap="round">
<path d="M110,-5 C100,60 60,140 20,245" stroke-width="30"/>
<path d="M245,40 C180,90 130,130 90,245" stroke-width="28"/>
<path d="M-5,105 C60,95 150,130 245,150" stroke-width="26"/>
<path d="M150,-5 C160,40 200,60 245,70" stroke-width="20"/>
<path d="M-5,190 C30,180 50,200 70,240" stroke-width="16"/>
</g>
<use href="#chon" transform="translate(27,17) rotate(25)"/>
<use href="#chon" transform="translate(77,39) rotate(-15)"/>
<use href="#chon" transform="translate(32,54) rotate(-20)"/>
<use href="#chon" transform="translate(108,68) rotate(-20)"/>
<use href="#chon" transform="translate(213,71) rotate(30)"/>
<use href="#chon" transform="translate(216,97) rotate(-20)"/>
<use href="#chon" transform="translate(16,130) rotate(25)"/>
<use href="#chon" transform="translate(88,135) rotate(80)"/>
<use href="#chon" transform="translate(157,125) rotate(30)"/>
<use href="#chon" transform="translate(104,164) rotate(-40)"/>
<use href="#chon" transform="translate(142,156) rotate(-30)"/>
<use href="#chon" transform="translate(193,151) rotate(-20)"/>
<use href="#obl" transform="translate(167,30) rotate(-10) scale(1.1)"/>
<use href="#obl" transform="translate(57,177) scale(1.1)"/>
<use href="#obl" transform="translate(196,208) rotate(10) scale(1.1)"/>
</g>
<path d="M32,66V77M65,186V199" stroke="#222" stroke-width="1.3"/>
<text class="lb" x="8" y="89" textLength="72" lengthAdjust="spacingAndGlyphs">ХОНДРОЦИТ</text>
<text class="lb" x="34" y="210" textLength="74" lengthAdjust="spacingAndGlyphs">ОСТЕОБЛАСТ</text>
<rect width="233" height="232" fill="none" stroke="#2a2a2a" stroke-width="1.4" stroke-dasharray="5,3"/>
</g>

<!-- CELL PANEL 4 -->
<g transform="translate(784,808)">
<g clip-path="url(#cc)">
<rect width="233" height="232" fill="#cfa4b1"/>
<g fill="none" stroke="#e4dac6" stroke-linecap="round">
<path d="M-5,40 C60,80 150,140 245,200" stroke-width="24"/>
<path d="M245,30 C160,90 80,150 -5,215" stroke-width="24"/>
<path d="M90,-5 C100,60 110,120 120,245" stroke-width="16"/>
<path d="M160,-5 C170,30 200,40 245,40" stroke-width="14"/>
</g>
<use href="#hchon" transform="translate(78,80) rotate(-15)"/>
<use href="#hchon" transform="translate(128,83) rotate(70)"/>
<use href="#hchon" transform="translate(151,128) rotate(-20)"/>
<use href="#obl" transform="translate(176,34) rotate(-10) scale(1.1)"/>
<use href="#obl" transform="translate(55,185) scale(1.1)"/>
<use href="#obl" transform="translate(202,203) scale(1.1)"/>
<use href="#ocl" transform="translate(45,110)"/>
<use href="#ocl" transform="translate(197,95)"/>
<use href="#ocl" transform="translate(199,142)"/>
<use href="#ocl" transform="translate(133,170)"/>
</g>
<path d="M76,48V58M35,123V133" stroke="#222" stroke-width="1.3"/>
<text class="lb" x="8" y="27" textLength="142" lengthAdjust="spacingAndGlyphs">ГИПЕРТРОФИРОВАННЫЙ</text>
<text class="lb" x="42" y="44" textLength="82" lengthAdjust="spacingAndGlyphs">ХОНДРОЦИТ</text>
<text class="lb" x="8" y="146" textLength="75" lengthAdjust="spacingAndGlyphs">ОСТЕОКЛАСТ</text>
<rect width="233" height="232" fill="none" stroke="#2a2a2a" stroke-width="1.4" stroke-dasharray="5,3"/>
</g>

<!-- CELL PANEL 5 -->
<g transform="translate(1034,808)">
<g clip-path="url(#cc)">
<rect width="233" height="232" fill="#e9e0cb"/>
<g fill="#d2a5ad">
<path d="M-5,20 C20,10 50,30 60,60 L40,70 C30,50 15,40 -5,45Z"/>
<path d="M80,-5 L150,-5 C140,20 120,30 95,25Z"/>
<path d="M160,20 C190,30 220,20 240,30 L240,70 C210,60 180,60 165,45Z"/>
<path d="M-5,150 C30,140 50,170 60,200 L40,240 L-5,240Z"/>
<path d="M180,90 C200,110 230,100 240,110 L240,180 C220,170 200,160 190,140Z"/>
<path d="M100,190 C130,180 170,200 180,240 L110,240Z"/>
<path d="M60,80 C80,90 90,110 80,130 L60,120Z"/>
</g>
<use href="#myel" transform="translate(48,19) rotate(10)"/>
<use href="#myel" transform="translate(109,68) rotate(-20)"/>
<use href="#myel" transform="translate(203,197) rotate(60)"/>
<use href="#hema" transform="translate(109,104) rotate(10)"/>
<use href="#hema" transform="translate(36,122) rotate(-30)"/>
<use href="#hema" transform="translate(73,154)"/>
<use href="#obl" transform="translate(41,71) scale(1.1)"/>
<use href="#obl" transform="translate(129,162) rotate(-15) scale(1.1)"/>
<use href="#chon" transform="translate(158,130) rotate(30)"/>
<use href="#chon" transform="translate(175,167) rotate(-20)"/>
<use href="#ocl" transform="translate(205,95)"/>
<use href="#ocl" transform="translate(205,144)"/>
</g>
<path d="M108,21V58M73,165V192" stroke="#222" stroke-width="1.3"/>
<text class="lb" x="51" y="17" textLength="173" lengthAdjust="spacingAndGlyphs">МИЕЛОПОЭТИЧЕСКАЯ КЛЕТКА</text>
<text class="lb" x="18" y="208" textLength="135" lengthAdjust="spacingAndGlyphs">КРОВЕТВОРНАЯ КЛЕТКА</text>
<rect width="233" height="232" fill="none" stroke="#2a2a2a" stroke-width="1.4" stroke-dasharray="5,3"/>
</g>

<!-- CELL PANEL 6 -->
<g transform="translate(1284,808)">
<g clip-path="url(#cc)">
<rect width="233" height="232" fill="#dcd4c0"/>
<path d="M26,13 L55,49 M104,19 L55,49 M104,19 L156,49 M156,49 L210,37 M55,49 L94,89 M156,49 L192,89 M94,89 L26,101 M94,89 L138,113 M192,89 L217,135 M138,113 L192,89 M26,101 L10,140 M138,113 L140,150 M217,135 L230,150 M26,13 L0,30 M210,37 L235,20" stroke="#1c1c1c" stroke-width="1.5" fill="none" stroke-dasharray="6,2"/>
<use href="#ocy" transform="translate(26,13) rotate(-30)"/>
<use href="#ocy" transform="translate(104,19) rotate(30)"/>
<use href="#ocy" transform="translate(55,49) rotate(-25)"/>
<use href="#ocy" transform="translate(156,49) rotate(-30)"/>
<use href="#ocy" transform="translate(210,37) rotate(-35)"/>
<use href="#ocy" transform="translate(94,89) rotate(-20)"/>
<use href="#ocy" transform="translate(192,89) rotate(30)"/>
<use href="#ocy" transform="translate(26,101) rotate(25)"/>
<use href="#ocy" transform="translate(138,113) rotate(-20)"/>
<use href="#ocy" transform="translate(217,135) rotate(25)"/>
<use href="#obl" transform="translate(13,168) scale(1.1)"/>
<use href="#obl" transform="translate(55,168) scale(1.1)"/>
<use href="#obl" transform="translate(158,165) scale(1.1)"/>
<use href="#obl" transform="translate(80,200) scale(1.1)"/>
<use href="#obl" transform="translate(220,202) scale(1.1)"/>
<use href="#ocl" transform="translate(104,165)"/>
<use href="#ocl" transform="translate(202,168)"/>
<use href="#ocl" transform="translate(25,200)"/>
<use href="#ocl" transform="translate(127,200)"/>
<use href="#ocl" transform="translate(172,202)"/>
</g>
<path d="M94,95V133" stroke="#222" stroke-width="1.3"/>
<text class="lb" x="50" y="144" textLength="61" lengthAdjust="spacingAndGlyphs">ОСТЕОЦИТ</text>
<rect width="233" height="232" fill="none" stroke="#2a2a2a" stroke-width="1.4" stroke-dasharray="5,3"/>
</g>

<!-- BARS -->
<text class="bt" x="27" y="1077" textLength="193" lengthAdjust="spacingAndGlyphs">АНАБОЛИЧЕСКАЯ ФАЗА</text>
<rect x="228" y="1063" width="1037" height="16" rx="3" fill="url(#gAna)"/>
<text class="bt" x="400" y="1111" textLength="197" lengthAdjust="spacingAndGlyphs">КАТАБОЛИЧЕСКАЯ ФАЗА</text>
<rect x="603" y="1096" width="910" height="17" rx="3" fill="url(#gCat)"/>
<rect x="37" y="1141" width="563" height="18" rx="4" fill="url(#gInf)"/>
<text class="bt" x="607" y="1157" textLength="226" lengthAdjust="spacingAndGlyphs">ВОСПАЛИТЕЛЬНАЯ СТАДИЯ</text>
<text class="bt" x="356" y="1191" textLength="241" lengthAdjust="spacingAndGlyphs">ЭНДОХОНДРАЛЬНАЯ СТАДИЯ</text>
<rect x="603" y="1175" width="669" height="17" rx="3" fill="url(#gEndo)"/>
<text class="bt" x="500" y="1225" textLength="376" lengthAdjust="spacingAndGlyphs">СОПРЯЖЁННАЯ СТАДИЯ РЕМОДЕЛИРОВАНИЯ</text>
<rect x="883" y="1209" width="629" height="17" rx="3" fill="url(#gRem)"/>

<text x="27" y="1222" font-size="10.5" fill="#bdbdbd" textLength="363" lengthAdjust="spacingAndGlyphs">ИСТОЧНИК: HTTPS://DOI.ORG/10.1016/B978-0-08-102906-0.00016-7</text>
<text x="27" y="1237" font-size="10.5" fill="#bdbdbd" textLength="165" lengthAdjust="spacingAndGlyphs">ПЕРЕВОД: АЗАТ КАДИРОВ, 2026</text>
</svg>
</body></html>
